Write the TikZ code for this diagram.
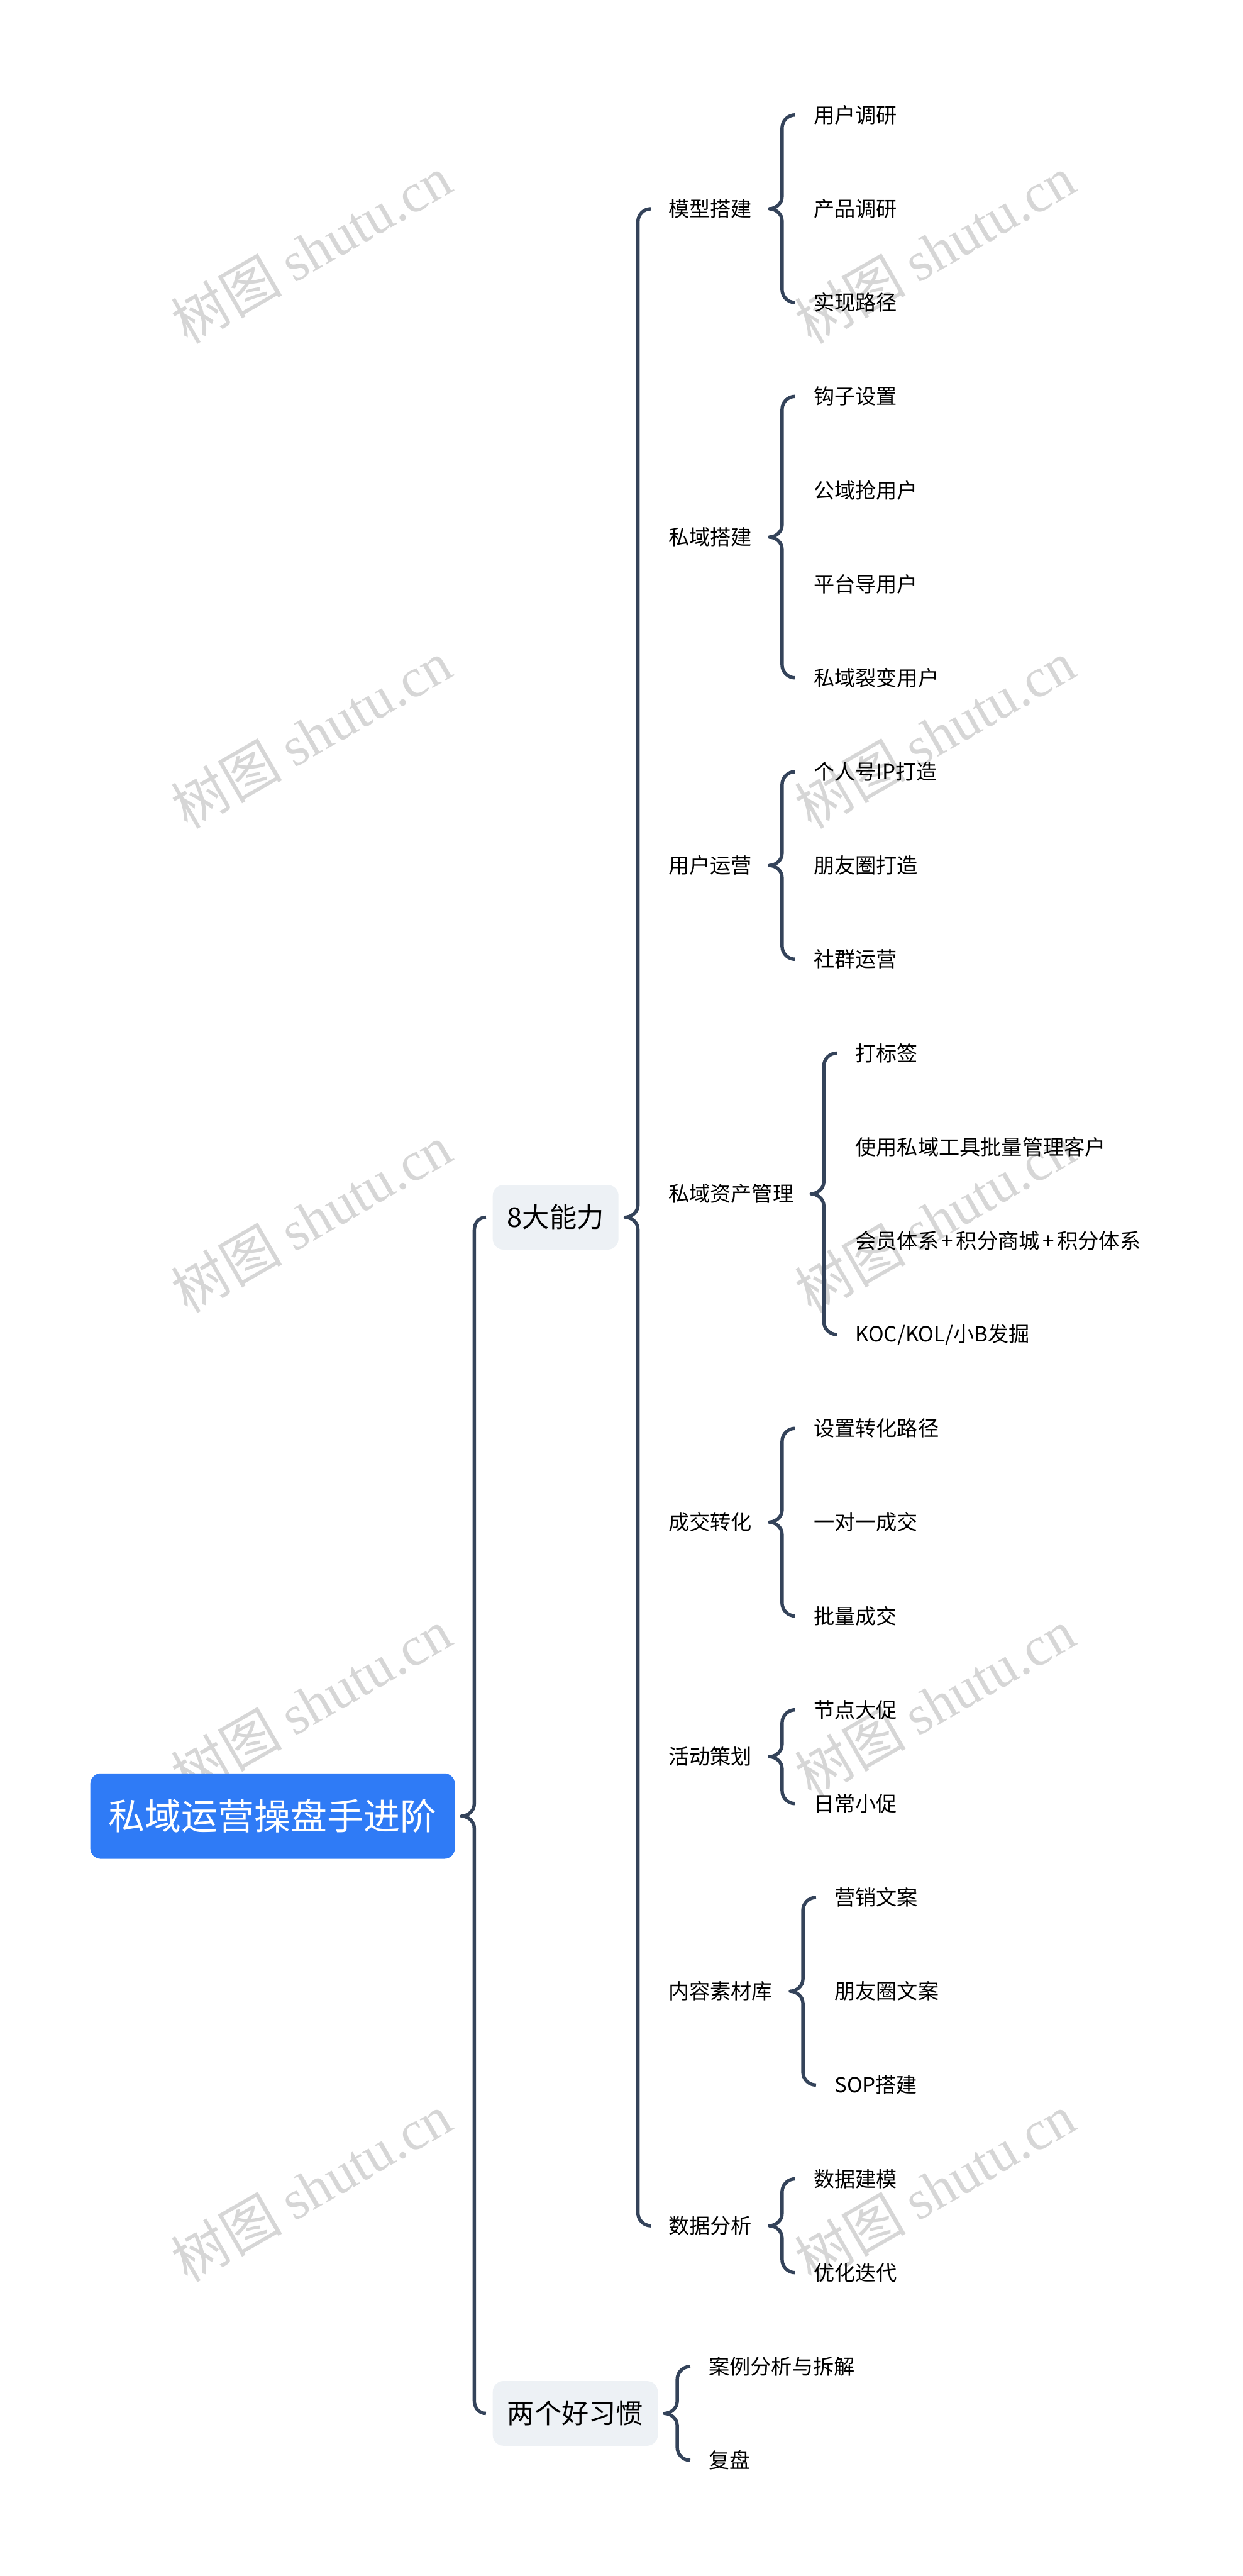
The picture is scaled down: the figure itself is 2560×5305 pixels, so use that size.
\documentclass[tikz,border=0pt]{standalone}
\usepackage{fontspec}
\setmainfont{Noto Sans CJK SC}
\newfontfamily\wmserif{Liberation Serif}
\usetikzlibrary{calc}
\definecolor{rootblue}{RGB}{47,123,246}
\definecolor{boxgray}{RGB}{237,241,245}
\definecolor{linec}{RGB}{52,67,90}
\definecolor{wmgray}{RGB}{214,214,214}
\newcommand\bracedraw[3]{%
  \draw[conn] let \p1=(#1.east), \p2=(#2.west), \p3=(#3.west) in
   (\x2,\y2) .. controls (\x2-15pt,\y2) and (\x1+26pt,\y2-12pt) .. (\x1+26pt,\y2-27pt)
   -- (\x1+26pt,\y1+25pt)
   .. controls (\x1+26pt,\y1+10pt) and (\x1+12pt,\y1) .. (\x1,\y1)
   .. controls (\x1+12pt,\y1) and (\x1+26pt,\y1-10pt) .. (\x1+26pt,\y1-25pt)
   -- (\x1+26pt,\y3+27pt)
   .. controls (\x1+26pt,\y3+12pt) and (\x3-15pt,\y3) .. (\x3,\y3);
}
\newcommand\plussign{\hspace{6pt}+\hspace{6pt}}
\begin{document}
\begin{tikzpicture}[x=1pt,y=-1pt,
  conn/.style={draw=linec,line width=7pt,line join=round},
  rootbox/.style={fill=rootblue,rounded corners=22pt,text=white,minimum width=751pt,minimum height=176pt,inner sep=0pt,outer xsep=14pt,outer ysep=0pt,font=\fontsize{75}{75}\selectfont},
  subbox/.style={fill=boxgray,rounded corners=22pt,minimum height=133pt,inner xsep=30pt,inner ysep=0pt,outer xsep=14pt,outer ysep=0pt,font=\fontsize{56}{56}\selectfont,anchor=west},
  midnode/.style={inner xsep=36pt,inner ysep=4pt,outer sep=0pt,font=\fontsize{43}{43}\selectfont,anchor=west},
  leafnode/.style={inner xsep=38pt,inner ysep=4pt,outer sep=0pt,font=\fontsize{43}{43}\selectfont,anchor=west},
  wm/.style={text=wmgray,rotate=30,inner sep=0pt,font=\fontsize{114}{114}\selectfont}
]
\useasboundingbox (0,0) rectangle (2560,5305);
% watermarks
\foreach \wy [count=\k] in {514,1512,2509,3507,4505}{
  \node[wm] (wl\k) at (641,\wy) {树图 {\wmserif shutu.cn}};
  \node[wm] (wr\k) at (1926,\wy) {树图 {\wmserif shutu.cn}};
}
% root and level 1
\node[rootbox] (root) at (561.5,3740) {私域运营操盘手进阶};
\node[subbox] (s1) at (1001,2506.8) {8大能力};
\node[subbox] (s2) at (1001,4970.1) {两个好习惯};
% level 2
\node[midnode] (m1) at (1341,429.9) {模型搭建};
\node[midnode] (m2) at (1341,1106.1) {私域搭建};
\node[midnode] (m3) at (1341,1782.3) {用户运营};
\node[midnode] (m4) at (1341,2458.5) {私域资产管理};
\node[midnode] (m5) at (1341,3134.7) {成交转化};
\node[midnode] (m6) at (1341,3617.7) {活动策划};
\node[midnode] (m7) at (1341,4100.7) {内容素材库};
\node[midnode] (m8) at (1341,4583.7) {数据分析};
% leaf anchors
\coordinate (c1) at ([xshift=53pt]m1.east);
\coordinate (c2) at ([xshift=53pt]m2.east);
\coordinate (c3) at ([xshift=53pt]m3.east);
\coordinate (c4) at ([xshift=53pt]m4.east);
\coordinate (c5) at ([xshift=53pt]m5.east);
\coordinate (c6) at ([xshift=53pt]m6.east);
\coordinate (c7) at ([xshift=53pt]m7.east);
\coordinate (c8) at ([xshift=53pt]m8.east);
\coordinate (c9) at ([xshift=53pt]s2.east);
% leaves
\node[leafnode] (l0) at (c1 |- 0,236.7) {用户调研};
\node[leafnode] (l1) at (c1 |- 0,429.9) {产品调研};
\node[leafnode] (l2) at (c1 |- 0,623.1) {实现路径};
\node[leafnode] (l3) at (c2 |- 0,816.3) {钩子设置};
\node[leafnode] (l4) at (c2 |- 0,1009.5) {公域抢用户};
\node[leafnode] (l5) at (c2 |- 0,1202.7) {平台导用户};
\node[leafnode] (l6) at (c2 |- 0,1395.9) {私域裂变用户};
\node[leafnode] (l7) at (c3 |- 0,1589.1) {个人号IP打造};
\node[leafnode] (l8) at (c3 |- 0,1782.3) {朋友圈打造};
\node[leafnode] (l9) at (c3 |- 0,1975.5) {社群运营};
\node[leafnode] (l10) at (c4 |- 0,2168.7) {打标签};
\node[leafnode] (l11) at (c4 |- 0,2361.9) {使用私域工具批量管理客户};
\node[leafnode] (l12) at (c4 |- 0,2555.1) {会员体系\plussign 积分商城\plussign 积分体系};
\node[leafnode] (l13) at (c4 |- 0,2748.3) {KOC/KOL/小B发掘};
\node[leafnode] (l14) at (c5 |- 0,2941.5) {设置转化路径};
\node[leafnode] (l15) at (c5 |- 0,3134.7) {一对一成交};
\node[leafnode] (l16) at (c5 |- 0,3327.9) {批量成交};
\node[leafnode] (l17) at (c6 |- 0,3521.1) {节点大促};
\node[leafnode] (l18) at (c6 |- 0,3714.3) {日常小促};
\node[leafnode] (l19) at (c7 |- 0,3907.5) {营销文案};
\node[leafnode] (l20) at (c7 |- 0,4100.7) {朋友圈文案};
\node[leafnode] (l21) at (c7 |- 0,4293.9) {SOP搭建};
\node[leafnode] (l22) at (c8 |- 0,4487.1) {数据建模};
\node[leafnode] (l23) at (c8 |- 0,4680.3) {优化迭代};
\node[leafnode] (l24) at (c9 |- 0,4873.5) {案例分析与拆解};
\node[leafnode] (l25) at (c9 |- 0,5066.7) {复盘};
% braces
\bracedraw{root}{s1}{s2}
\bracedraw{s1}{m1}{m8}
\bracedraw{m1}{l0}{l2}
\bracedraw{m2}{l3}{l6}
\bracedraw{m3}{l7}{l9}
\bracedraw{m4}{l10}{l13}
\bracedraw{m5}{l14}{l16}
\bracedraw{m6}{l17}{l18}
\bracedraw{m7}{l19}{l21}
\bracedraw{m8}{l22}{l23}
\bracedraw{s2}{l24}{l25}
\end{tikzpicture}
\end{document}
